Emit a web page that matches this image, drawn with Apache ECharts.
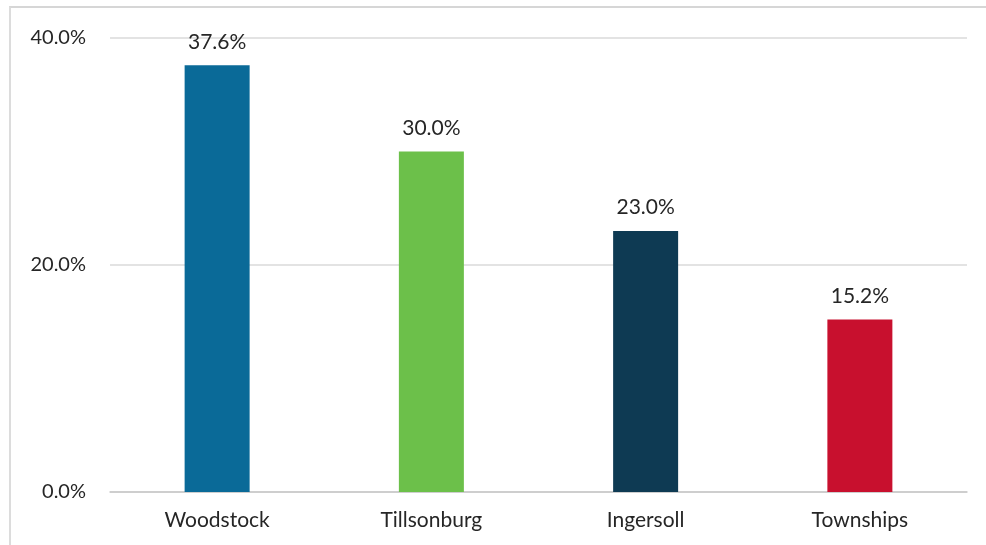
<!DOCTYPE html>
<html>
<head>
<meta charset="utf-8">
<script src="https://cdn.jsdelivr.net/npm/echarts@6/dist/echarts.min.js"></script>
<style>
  html, body { margin: 0; padding: 0; background: #ffffff; }
  #frame { position: absolute; left: 9px; top: 6px; width: 977px; height: 539px;
           border-top: 2px solid #d6d6d6; border-left: 2px solid #dcdcdc; box-sizing: border-box; }
  #chart { position: absolute; left: 0; top: 0; width: 986px; height: 545px; }
</style>
</head>
<body>
<div id="frame"></div>
<div id="chart"></div>
<script>
// Share by area
const categories = ['Woodstock', 'Tillsonburg', 'Ingersoll', 'Townships'];
const shares = [37.6, 30.0, 23.0, 15.2];
const barColors = ['#0A6A98', '#6CC04A', '#0E3A53', '#C8102E'];
const yTicks = { min: 0, max: 40, interval: 20 };

const chart = echarts.init(document.getElementById('chart'), null, { renderer: 'canvas' });
chart.setOption({
  backgroundColor: 'transparent',
  animation: false,
  grid: { left: 110, right: 19, top: 38, bottom: 53, containLabel: false },
  xAxis: {
    type: 'category',
    data: categories,
    axisLine: { show: true, lineStyle: { color: '#c8c8c8', width: 1.5 } },
    axisTick: { show: false },
    axisLabel: { color: '#262626', fontFamily: 'Lato', fontSize: 21, margin: 18 }
  },
  yAxis: {
    type: 'value',
    min: yTicks.min, max: yTicks.max, interval: yTicks.interval,
    axisLine: { show: false },
    axisTick: { show: false },
    splitLine: { lineStyle: { color: '#dadada', width: 1.5 } },
    axisLabel: { color: '#262626', fontFamily: 'Lato', fontSize: 20, margin: 24,
                 formatter: v => v.toFixed(1) + '%' }
  },
  series: [{
    type: 'bar',
    barWidth: 65,
    data: shares.map((v, i) => ({ value: v, itemStyle: { color: barColors[i] } })),
    label: {
      show: true, position: 'top', distance: 13,
      color: '#262626', fontFamily: 'Lato', fontSize: 21,
      formatter: p => p.value.toFixed(1) + '%'
    }
  }]
});
</script>
</body>
</html>
